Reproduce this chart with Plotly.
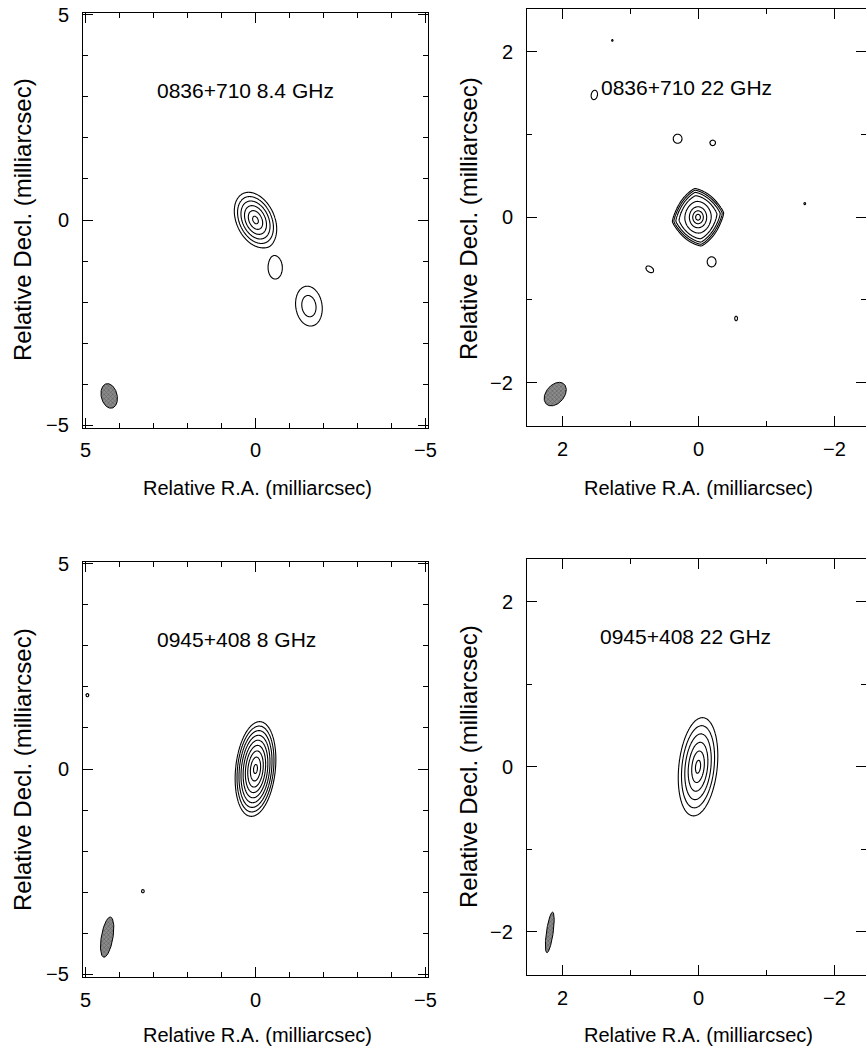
import numpy as np
import plotly.graph_objects as go

# ------------------------------------------------------------------ data
panel_titles = ["0836+710 8.4 GHz", "0836+710 22 GHz", "0945+408 8 GHz", "0945+408 22 GHz"]
x_title = "Relative R.A. (milliarcsec)"
y_title = "Relative Decl. (milliarcsec)"

# axis extents (mas) and tick spacing
ra_ranges = [[5.07, -5.07], [2.515, -2.47], [5.07, -5.07], [2.515, -2.47]]
dec_ranges = [[-5.06, 5.06], [-2.52, 2.52], [-5.06, 5.06], [-2.52, 2.52]]
major_dtick = [5, 2, 5, 2]
minor_dtick = [1, 1, 1, 1]

# labelled tick values
ra_tick_vals = [[5, 0, -5], [2, 0, -2], [5, 0, -5], [2, 0, -2]]
dec_tick_vals = [[-5, 0, 5], [-2, 0, 2], [-5, 0, 5], [-2, 0, 2]]

# contour levels: log2 of lowest level (relative to core amplitude) and number of levels (factor 2 steps)
level_low = [-5.5, -7.8, -8.4, -5.6]
level_count = [6, 8, 9, 6]

# model components per panel: RA, Dec (mas), amplitude, major/minor scale (mas), PA (deg),
# radial exponent, shape exponent
c1_ra = [0.0, -0.58, -1.57]
c1_dec = [0.0, -1.17, -2.10]
c1_amp = [1.0, 2 ** -4.6, 2 ** -4.1]
c1_maj = [0.246, 0.34, 0.50]
c1_min = [0.174, 0.26, 0.39]
c1_pa = [38, 0, 15]
c1_prof = [1.2, 2.0, 2.0]
c1_shape = [2.0, 2.0, 2.0]

c2_ra = [0.0, 0.0, 1.525, 0.30, -0.216, 0.71, -0.20, -0.56, -1.57, 1.26]
c2_dec = [0.0, 0.0, 1.48, 0.95, 0.90, -0.63, -0.54, -1.225, 0.165, 2.14]
c2_amp = [1.0, 0.045] + [2 ** -7.2] * 8
c2_maj = [0.055, 0.296, 0.090, 0.100, 0.062, 0.093, 0.100, 0.043, 0.019, 0.016]
c2_min = [0.055, 0.326, 0.070, 0.085, 0.051, 0.054, 0.093, 0.031, 0.019, 0.016]
c2_pa = [0, 8, -20, 90, 90, 65, 90, 0, 0, 0]
c2_prof = [1.0, 6.0] + [2.0] * 8
c2_shape = [2.0, 1.3] + [2.0] * 8

c3_ra = [0.0, 4.94, 3.31]
c3_dec = [0.0, 1.80, -2.98]
c3_amp = [1.0, 2 ** -7.8 * 1.2, 2 ** -7.8 * 1.2]
c3_maj = [0.30, 0.05, 0.05]
c3_min = [0.15, 0.05, 0.05]
c3_pa = [-8, 0, 0]
c3_prof = [1.3, 2.0, 2.0]
c3_shape = [2.0, 2.0, 2.0]

c4_ra = [0.0]
c4_dec = [0.0]
c4_amp = [1.0]
c4_maj = [0.175]
c4_min = [0.082]
c4_pa = [-8]
c4_prof = [1.1]
c4_shape = [2.0]

# restoring beams: RA, Dec, semi-major, semi-minor (mas), PA (deg)
beam_ra = [4.30, 2.10, 4.36, 2.18]
beam_dec = [-4.29, -2.14, -4.10, -2.01]
beam_maj = [0.31, 0.18, 0.50, 0.25]
beam_min = [0.23, 0.12, 0.17, 0.05]
beam_pa = [22, -55, -12, -10]

# panel label anchor (RA, Dec)
label_ra = [2.94, 1.456, 2.94, 1.47]
label_dec = [3.15, 1.57, 3.15, 1.58]

components = [
    list(zip(c1_ra, c1_dec, c1_amp, c1_maj, c1_min, c1_pa, c1_prof, c1_shape)),
    list(zip(c2_ra, c2_dec, c2_amp, c2_maj, c2_min, c2_pa, c2_prof, c2_shape)),
    list(zip(c3_ra, c3_dec, c3_amp, c3_maj, c3_min, c3_pa, c3_prof, c3_shape)),
    list(zip(c4_ra, c4_dec, c4_amp, c4_maj, c4_min, c4_pa, c4_prof, c4_shape)),
]

# ------------------------------------------------------------------ layout geometry (pixels)
W, H = 866, 1053
FONT = "Liberation Sans, Arial, sans-serif"
px_x = [(83, 428), (527, 866), (83, 428), (527, 866)]
px_y = [(12.5, 427.5), (9, 425.5), (561.5, 976.5), (559, 974.5)]
xt_pos = [(257, 488), (698, 488), (257, 1035), (698, 1035)]
yt_pos = [(22, 220), (468, 219), (22, 770), (468, 767)]
XLAB_DY = 23.0     # tick label centre below frame
YLAB_DX = 12.5     # tick label right edge left of frame


def model(RA, DEC, comps):
    img = np.zeros_like(RA)
    for x0, y0, amp, a, b, pa, p, s in comps:
        t = np.deg2rad(pa)
        dx = RA - x0
        dy = DEC - y0
        u = dx * np.sin(t) + dy * np.cos(t)
        v = dx * np.cos(t) - dy * np.sin(t)
        D = (np.abs(u / a) ** s + np.abs(v / b) ** s) ** (1.0 / s)
        img += amp * np.exp(-D ** p)
    return img


def build_axis(lo, hi, centers, comps, zlow, coarse=0.045):
    parts = [np.arange(lo, hi + coarse, coarse)]
    L = 2.0 ** zlow
    for c, (x0, y0, amp, a, b, pa, p, s) in zip(centers, comps):
        if amp <= L:
            continue
        d = np.log(amp / L) ** (1.0 / p)
        ext = max(a, b) * d
        st = max(min(a, b) * d / 30.0, 0.0018)
        half = 1.35 * ext + 4 * st
        n = int(np.ceil(2 * half / st)) + 1
        parts.append(np.linspace(c - half, c + half, n))
    g = np.unique(np.round(np.concatenate(parts), 4))
    return g[(g >= lo) & (g <= hi)]


def fmt(v):
    return ("\u2212" + str(abs(v))) if v < 0 else str(v)


fig = go.Figure()
layout = dict(width=W, height=H, margin=dict(l=0, r=0, t=0, b=0, pad=0),
              paper_bgcolor="white", plot_bgcolor="white", showlegend=False,
              font=dict(family=FONT, color="black"))
annotations = []
tick_font = dict(family=FONT, size=20, color="black")

for i in range(4):
    sx = "" if i == 0 else str(i + 1)
    xa, ya = "x" + sx, "y" + sx
    comps = components[i]
    rlo, rhi = min(ra_ranges[i]), max(ra_ranges[i])
    dlo, dhi = min(dec_ranges[i]), max(dec_ranges[i])
    xs = build_axis(rlo, rhi, [c[0] for c in comps], comps, level_low[i])
    ys = build_axis(dlo, dhi, [c[1] for c in comps], comps, level_low[i])
    RA, DEC = np.meshgrid(xs, ys)
    img = model(RA, DEC, comps)
    Z = np.log2(np.maximum(img, 2.0 ** -40)).astype(np.float32)
    fig.add_trace(go.Contour(
        x=xs, y=ys, z=Z, xaxis=xa, yaxis=ya, autocontour=False,
        contours=dict(start=level_low[i], end=level_low[i] + level_count[i] - 1 + 1e-3,
                      size=1, coloring="lines", showlabels=False),
        line=dict(width=1.1, smoothing=1.0),
        colorscale=[[0, "black"], [1, "black"]], showscale=False, hoverinfo="skip"))

    # restoring beam
    t = np.linspace(0, 2 * np.pi, 120)
    pa = np.deg2rad(beam_pa[i])
    u = beam_maj[i] * np.cos(t)
    v = beam_min[i] * np.sin(t)
    bx = beam_ra[i] + u * np.sin(pa) + v * np.cos(pa)
    by = beam_dec[i] + u * np.cos(pa) - v * np.sin(pa)
    fig.add_trace(go.Scatter(x=bx, y=by, xaxis=xa, yaxis=ya, mode="lines", fill="toself",
                             fillcolor="#7a7a7a",
                             fillpattern=dict(shape="x", size=3, solidity=0.35,
                                              fgcolor="#2a2a2a", bgcolor="#8c8c8c"),
                             line=dict(color="black", width=1), hoverinfo="skip"))

    common = dict(showline=True, linecolor="black", linewidth=1, mirror="allticks",
                  ticks="inside", ticklen=10, tickwidth=1, tickcolor="black",
                  showgrid=False, zeroline=False, tickmode="linear", tick0=0,
                  showticklabels=False,
                  minor=dict(ticks="inside", ticklen=5, tickwidth=1, tickcolor="black",
                             tickmode="linear", tick0=0, dtick=minor_dtick[i], showgrid=False),
                  autorange=False, fixedrange=True, dtick=major_dtick[i])
    x0, x1 = px_x[i]
    y0, y1 = px_y[i]
    layout["xaxis" + sx] = dict(common, domain=[x0 / W, min(x1 / W, 1.0)], range=ra_ranges[i],
                                anchor=ya)
    layout["yaxis" + sx] = dict(common, domain=[1 - y1 / H, 1 - y0 / H], range=dec_ranges[i],
                                anchor=xa)

    # tick labels
    for tv in ra_tick_vals[i]:
        annotations.append(dict(text=fmt(tv), x=tv, xref=xa, y=1 - (y1 + XLAB_DY) / H,
                                yref="paper", xanchor="center", yanchor="middle",
                                showarrow=False, font=tick_font))
    for tv in dec_tick_vals[i]:
        annotations.append(dict(text=fmt(tv), y=tv, yref=ya, x=(x0 - YLAB_DX) / W,
                                xref="paper", xanchor="right", yanchor="middle",
                                showarrow=False, font=tick_font))

    annotations.append(dict(text=panel_titles[i], x=label_ra[i], y=label_dec[i], xref=xa, yref=ya,
                            xanchor="left", yanchor="middle", showarrow=False,
                            font=dict(family=FONT, size=21, color="black")))
    annotations.append(dict(text=x_title, x=xt_pos[i][0] / W, y=1 - xt_pos[i][1] / H,
                            xref="paper", yref="paper", xanchor="center", yanchor="middle",
                            showarrow=False, font=dict(family=FONT, size=20, color="black")))
    annotations.append(dict(text=y_title, x=yt_pos[i][0] / W, y=1 - yt_pos[i][1] / H,
                            xref="paper", yref="paper", xanchor="center", yanchor="middle",
                            textangle=-90, showarrow=False,
                            font=dict(family=FONT, size=24, color="black")))

layout["annotations"] = annotations
fig.update_layout(**layout)
fig.write_html("out.html")
